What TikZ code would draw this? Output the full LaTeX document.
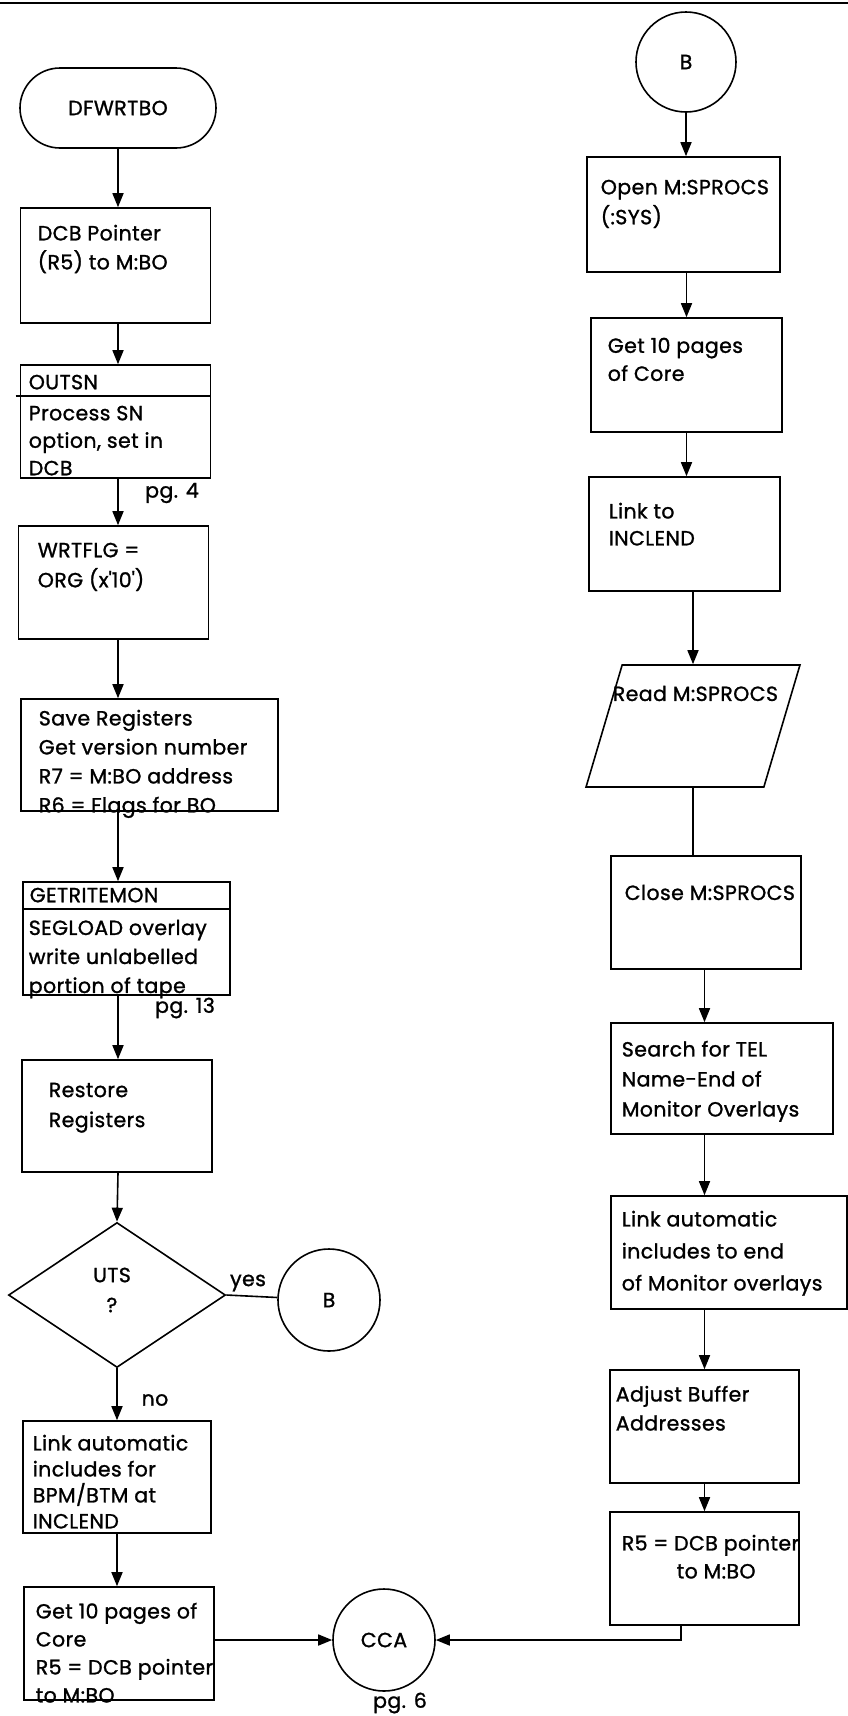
\documentclass[tikz,border=0pt]{standalone}
\usepackage{fontspec}
\setmainfont{Poppins}[FakeBold=1.2, LetterSpace=2]
\usetikzlibrary{arrows.meta,shapes.geometric,shapes.misc}

\begin{document}
\begin{tikzpicture}[x=1pt, y=-1pt, line width=1.6pt,
    every node/.style={inner sep=0pt, font=\fontsize{20.5}{29}\selectfont},
    box/.style={draw, rectangle, minimum width=190pt, minimum height=113pt},
    conn/.style={draw, circle, minimum size=102pt},
    txt/.style={anchor=north west, align=left},
    arr/.style={-{Triangle[length=14pt,width=11pt]}}]
  \useasboundingbox (0,0) rectangle (848,1716);
  \draw[line width=2.5pt] (0,3) -- (848,3);

  % left column
  \node[draw, rounded rectangle, minimum width=196pt, minimum height=80pt] (dfw) at (118,108) {DFWRTBO};
  \node[box, minimum height=115pt] (dcb) at (115.5,265.5) {};
  \node[txt] (dcbt) at (37,224) {DCB Pointer\\(R5) to M:BO};
  \node[box] (outsn) at (115.5,421.5) {};
  \draw ([xshift=-4pt,yshift=-32pt]outsn.north west) -- ([yshift=-32pt]outsn.north east);
  \node[txt] (outsnh) at (28,374) {OUTSN};
  \node[txt, font=\fontsize{20.5}{27.5}\selectfont] (outsnt) at (28,405) {Process SN\\option, set in\\DCB};
  \node (pg4) at (172,493) {pg. 4};
  \node[box] (wrtflg) at (113.5,582.5) {};
  \node[txt, font=\fontsize{20.5}{30}\selectfont] (wrtflgt) at (37,542) {WRTFLG =\\ORG (x\textquotesingle 10\textquotesingle)};
  \node[box, minimum width=257pt, minimum height=112pt] (save) at (149.5,755) {};
  \node[txt] (savet) at (38,709) {Save Registers\\Get version number\\R7 = M:BO address\\R6 = Flags for BO};
  \node[box, minimum width=207pt] (getr) at (126.5,938.5) {};
  \draw ([yshift=-28pt]getr.north west) -- ([yshift=-28pt]getr.north east);
  \node[txt] (getrh) at (29,887) {GETRITEMON};
  \node[txt] (getrt) at (28,919) {SEGLOAD overlay\\write unlabelled\\portion of tape};
  \node (pg13) at (185,1008) {pg. 13};
  \node[box, minimum height=112pt] (restore) at (117,1116) {};
  \node[txt, font=\fontsize{20.5}{30}\selectfont] (restoret) at (48,1082) {Restore\\Registers};
  \node[draw, diamond, minimum width=217pt, minimum height=145pt] (uts) at (117,1295) {};
  \node[align=center, font=\fontsize{20.5}{30}\selectfont] (utst) at (112,1290) {UTS\\?};
  \node (yes) at (248,1283) {yes};
  \node[conn] (bl) at (329,1300) {B};
  \node (no) at (155,1400) {no};
  \node[box, minimum width=188pt, minimum height=112pt] (link) at (117,1477) {};
  \node[txt, font=\fontsize{20.5}{26}\selectfont] (linkt) at (32,1434) {Link automatic\\includes for\\BPM/BTM at\\INCLEND};
  \node[box] (get) at (119,1643.5) {};
  \node[txt, font=\fontsize{20.5}{28}\selectfont] (gett) at (35,1602) {Get 10 pages of\\Core\\R5 = DCB pointer\\to M:BO};
  \node[conn] (cca) at (384,1640) {CCA};
  \node (pg6) at (400,1703) {pg. 6};

  % right column
  \node[conn, minimum size=100pt] (btop) at (686,62) {B};
  \node[box, minimum width=193pt, minimum height=115pt] (open) at (683.5,214.5) {};
  \node[txt, font=\fontsize{20.5}{30}\selectfont] (opent) at (600,179) {Open M:SPROCS\\(:SYS)};
  \node[box, minimum width=191pt, minimum height=114pt] (get10) at (686.5,375) {};
  \node[txt, font=\fontsize{20.5}{28}\selectfont] (get10t) at (607,337) {Get 10 pages\\of Core};
  \node[box, minimum width=191pt, minimum height=114pt] (linkinc) at (684.5,534) {};
  \node[txt, font=\fontsize{20.5}{27}\selectfont] (linkinct) at (608,502) {Link to\\INCLEND};
  \node[draw, trapezium, trapezium left angle=75.7, trapezium right angle=104.3, inner sep=2pt,
        trapezium stretches=true, minimum width=214pt, minimum height=122pt] (read) at (693,726) {};
  \node[txt] (readt) at (612,685) {Read M:SPROCS};
  \node[box] (close) at (706,912.5) {};
  \node[txt] (closet) at (624,884) {Close M:SPROCS};
  \node[box, minimum width=222pt, minimum height=111pt] (search) at (722,1078.5) {};
  \node[txt, font=\fontsize{20.5}{30}\selectfont] (searcht) at (621,1040) {Search for TEL\\Name-End of\\Monitor Overlays};
  \node[box, minimum width=236pt] (linkmon) at (729,1252.5) {};
  \node[txt, font=\fontsize{20.5}{32}\selectfont] (linkmont) at (621,1210) {Link automatic\\includes to end\\of Monitor overlays};
  \node[box, minimum width=189pt] (adjust) at (704.5,1426.5) {};
  \node[txt] (adjustt) at (615,1385) {Adjust Buffer\\Addresses};
  \node[box, minimum width=189pt] (r5) at (704.5,1568.5) {};
  \node[txt, font=\fontsize{20.5}{28}\selectfont] (r5t) at (621,1534) {R5 = DCB pointer\\\hspace*{55pt}to M:BO};
  \coordinate (r5out) at ([xshift=-23.5pt]r5.south);

  \draw[arr] (dfw) -- (dfw |- dcb.north);
  \draw[arr] (dcb.south -| dfw) -- (outsn.north -| dfw);
  \draw[arr] (outsn.south -| dfw) -- (wrtflg.north -| dfw);
  \draw[arr] (wrtflg.south -| dfw) -- (save.north -| dfw);
  \draw[arr] (save.south -| dfw) -- (getr.north -| dfw);
  \draw[arr] (getr.south -| dfw) -- (restore.north -| dfw);
  \draw[arr] (restore.south -| dfw) -- (uts.north);
  \draw (uts.east) -- (bl);
  \draw[arr] (uts.south) -- (uts.south |- link.north);
  \draw[arr] (link.south -| uts.south) -- (get.north -| uts.south);
  \draw[arr] (get.east |- cca) -- (cca);
  \draw[arr] (r5out) |- (cca);

  \draw[arr] (btop) -- (btop |- open.north);
  \draw[arr] (open.south -| get10) -- (get10);
  \draw[arr] (get10) -- (get10 |- linkinc.north);
  \draw[arr] (linkinc.south -| read) -- (read);
  \draw (read) -- (read |- close.north);
  \draw[arr] (close.south -| adjust) -- (search.north -| adjust);
  \draw[arr] (search.south -| adjust) -- (linkmon.north -| adjust);
  \draw[arr] (linkmon.south -| adjust) -- (adjust);
  \draw[arr] (adjust) -- (r5);
\end{tikzpicture}
\end{document}
